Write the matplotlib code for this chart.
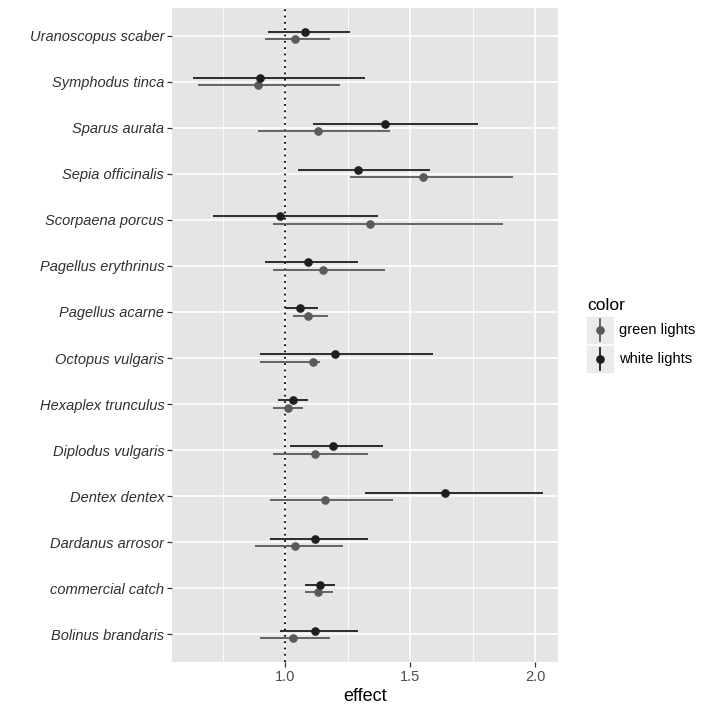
import numpy as np
import matplotlib
matplotlib.use("Agg")
import matplotlib.pyplot as plt
from matplotlib.patches import Rectangle
from matplotlib.lines import Line2D

plt.rcParams['font.family'] = ['Liberation Sans', 'DejaVu Sans']

# categories from top to bottom
species = ['Uranoscopus scaber', 'Symphodus tinca', 'Sparus aurata', 'Sepia officinalis',
           'Scorpaena porcus', 'Pagellus erythrinus', 'Pagellus acarne', 'Octopus vulgaris',
           'Hexaplex trunculus', 'Diplodus vulgaris', 'Dentex dentex', 'Dardanus arrosor',
           'commercial catch', 'Bolinus brandaris']

# white lights: estimate, lower, upper
white_eff = [1.08, 0.90, 1.40, 1.29, 0.98, 1.09, 1.06, 1.20, 1.03, 1.19, 1.64, 1.12, 1.14, 1.12]
white_lo = [0.93, 0.63, 1.11, 1.05, 0.71, 0.92, 1.00, 0.90, 0.97, 1.02, 1.32, 0.94, 1.08, 0.98]
white_hi = [1.26, 1.32, 1.77, 1.58, 1.37, 1.29, 1.13, 1.59, 1.09, 1.39, 2.03, 1.33, 1.20, 1.29]

# green lights: estimate, lower, upper
green_eff = [1.04, 0.89, 1.13, 1.55, 1.34, 1.15, 1.09, 1.11, 1.01, 1.12, 1.16, 1.04, 1.13, 1.03]
green_lo = [0.92, 0.65, 0.89, 1.26, 0.95, 0.95, 1.03, 0.90, 0.95, 0.95, 0.94, 0.88, 1.08, 0.90]
green_hi = [1.18, 1.22, 1.42, 1.91, 1.87, 1.40, 1.17, 1.14, 1.07, 1.33, 1.43, 1.23, 1.19, 1.18]

c_green = '#5a5a5a'
c_white = '#1e1e1e'

fig = plt.figure(figsize=(7.11, 7.11), dpi=100)
ax = fig.add_axes([172/711, 1 - 662/711, (558 - 172)/711, (662 - 8)/711])
ax.set_facecolor('#e5e5e5')

n = len(species)
ypos = np.arange(n)[::-1]
dodge = 0.08

ax.hlines(ypos - dodge, green_lo, green_hi, color=c_green, lw=1.3, zorder=3)
ax.plot(green_eff, ypos - dodge, 'o', color=c_green, ms=5.2, zorder=4)
ax.hlines(ypos + dodge, white_lo, white_hi, color=c_white, lw=1.3, zorder=3)
ax.plot(white_eff, ypos + dodge, 'o', color=c_white, ms=5.2, zorder=4)

ax.axvline(1.0, color='black', ls=(0, (1, 2.5)), lw=1.3, zorder=2)

# ggplot-like axes
ax.set_xlim(0.548, 2.092)
ax.set_ylim(-0.6, n - 0.4)
ax.set_yticks(ypos)
ax.set_yticklabels(species, fontstyle='italic', fontsize=10.5, color='#303030')
ax.set_xticks([1.0, 1.5, 2.0])
ax.set_xticklabels(['1.0', '1.5', '2.0'], fontsize=10.5, color='#4d4d4d')
ax.set_xticks([0.75, 1.25, 1.75], minor=True)
ax.grid(True, which='major', color='white', lw=1.2, zorder=0)
ax.grid(True, which='minor', axis='x', color='white', lw=0.6, zorder=0)
ax.set_axisbelow(True)
ax.tick_params(axis='both', which='major', length=3.5, width=0.9, color='#333333', pad=2)
ax.tick_params(axis='x', which='minor', length=0)
for s in ax.spines.values():
    s.set_visible(False)
ax.set_xlabel('effect', fontsize=13, labelpad=3)

# legend drawn by hand
fig.text(587/711, 1 - 305/711, 'color', fontsize=12.5, va='center', ha='left')
keys = [('green lights', c_green, 317), ('white lights', c_white, 346)]
for lab, col, top in keys:
    fig.patches.append(Rectangle((587/711, 1 - (top + 26)/711), 26/711, 26/711,
                                 transform=fig.transFigure, color='#ebebeb'))
    xc = 600/711
    fig.lines.append(Line2D([xc, xc], [1 - (top + 2)/711, 1 - (top + 24)/711],
                            transform=fig.transFigure, color=col, lw=1.3))
    fig.lines.append(Line2D([xc], [1 - (top + 13)/711], marker='o', ms=5.2,
                            transform=fig.transFigure, color=col))
    fig.text(619/711, 1 - (top + 13)/711, lab, fontsize=10.5, va='center', ha='left')

fig.savefig('out.png', dpi=100)
